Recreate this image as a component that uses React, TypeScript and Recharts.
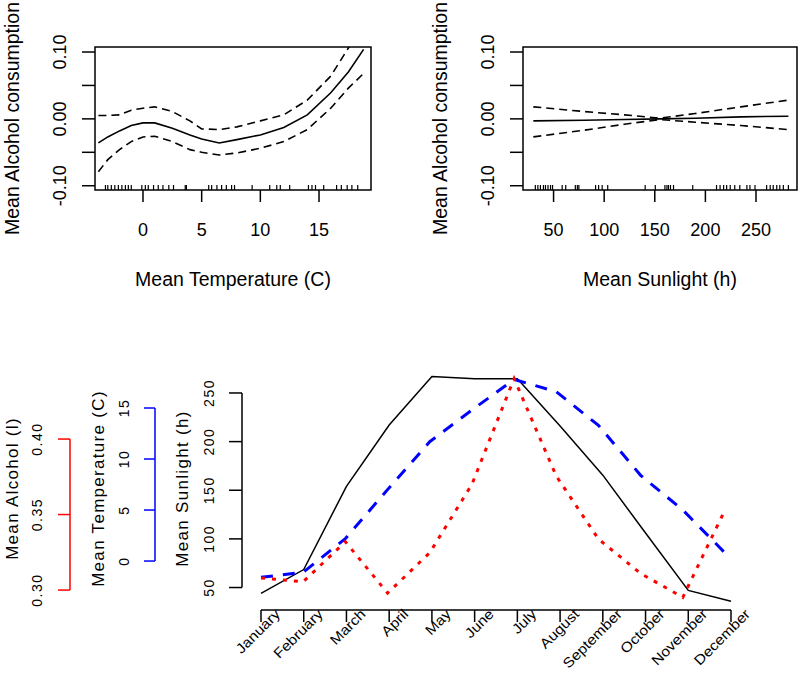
import React from 'react';
import { ComposedChart, LineChart, Line, Scatter, XAxis, YAxis, ReferenceArea } from 'recharts';

const FONT = '"Liberation Sans", Arial, sans-serif';

// top left: smooth of alcohol vs mean temperature
const TEMP_X = [-3.8, -3, -2, -1, 0, 1, 2.5, 4, 5, 6.5, 8, 10, 12, 14, 16, 17.5, 18.8];
const TEMP_FIT = [-0.036, -0.027, -0.018, -0.01, -0.006, -0.006, -0.014, -0.024, -0.03, -0.036, -0.031, -0.024, -0.013, 0.006, 0.039, 0.07, 0.104];
const TEMP_UP = [0.005, 0.005, 0.006, 0.013, 0.016, 0.018, 0.011, -0.003, -0.015, -0.016, -0.012, -0.003, 0.006, 0.028, 0.064, 0.106, 0.145];
const TEMP_LO = [-0.079, -0.061, -0.046, -0.034, -0.027, -0.026, -0.034, -0.046, -0.05, -0.054, -0.051, -0.044, -0.034, -0.016, 0.016, 0.046, 0.068];
const TEMP_RUG = [-3.2, -3.0, -2.7, -2.4, -2.1, -1.8, -1.5, -1.25, -1.0, -0.1, 0.2, 0.45, 0.9, 1.3, 1.7, 2.2, 2.6, 3.6, 3.7, 5.6, 5.85, 6.3, 6.7, 7.1, 7.55, 7.8, 9.3, 10.8, 11.4, 11.7, 12.5, 14.1, 14.4, 14.7, 15.4, 16.5, 16.9, 17.4, 17.8, 18.3];
const TEMP_XTICKS = [0, 5, 10, 15];

// top right: smooth of alcohol vs mean sunlight
const SUN_X = [30, 80, 120, 155, 190, 235, 282];
const SUN_FIT = [-0.003, -0.002, -0.001, 0.0, 0.001, 0.003, 0.004];
const SUN_UP = [0.018, 0.011, 0.006, 0.001, 0.008, 0.018, 0.028];
const SUN_LO = [-0.027, -0.017, -0.008, -0.001, -0.005, -0.01, -0.016];
const SUN_RUG = [32, 34.5, 37, 40, 42, 44.5, 47, 49, 58.5, 62, 71.5, 73.5, 75, 91.5, 94.5, 98, 103.5, 140.5, 150.5, 160, 162, 163.5, 165.5, 168.5, 187.5, 211, 214.5, 218, 221, 224.5, 229, 234, 241, 244, 249, 260.5, 264, 267, 270.5, 273.5, 277, 282];
const SUN_XTICKS = [50, 100, 150, 200, 250];

const Y_TICKS = [-0.1, -0.05, 0, 0.05, 0.1];
const Y_DOM = [-0.1064, 0.1075];

// bottom: monthly means
const MONTHS = ['January', 'February', 'March', 'April', 'May', 'June', 'July', 'August', 'September', 'October', 'November', 'December'];
const SUNLIGHT = [44, 68.5, 154, 217, 267, 264.5, 264.5, 216, 165.5, 106, 47, 36];
const TEMPERATURE = [-1.6, -1.1, 2.2, 7.0, 11.7, 14.8, 17.8, 16.6, 13.3, 8.4, 5.0, 0.8];
const ALCOHOL = [0.308, 0.3055, 0.332, 0.298, 0.3247, 0.37, 0.44, 0.3755, 0.3338, 0.311, 0.2952, 0.353];
const SUN_TICKS = [50, 100, 150, 200, 250];
const TEMP_TICKS = [0, 5, 10, 15];
const ALC_TICKS = [0.3, 0.35, 0.4];

const M_DOM = [0.5554, 12.4446];
const M2_DOM = [0.5496, 12.593];
const SUN_DOM = [26.9, 276.7];
const TEMP_DOM = [-4.8, 19.02];
const ALC_DOM = [0.2868, 0.4477];
const PLOT_W = 508;
const PLOT_H = 243;

const BOTTOM_TEXT = { fontFamily: FONT, fontSize: 14, letterSpacing: 1.5, fill: '#000' };
const MONTH_TEXT = { fontFamily: FONT, fontSize: 14, fill: '#000' };

// axis line drawn only between first and last tick, like R
const vPart = (dom: number[], ticks: number[]) => {
  const k = PLOT_H / (dom[1] - dom[0]);
  const hi = ticks[ticks.length - 1];
  return `0 ${(dom[1] - hi) * k} ${(hi - ticks[0]) * k} 3000`;
};
const hPart = (dom: number[], lo: number, hi: number) => {
  const k = PLOT_W / (dom[1] - dom[0]);
  return `0 ${(lo - dom[0]) * k} ${(hi - lo) * k} 3000`;
};

const rotTick = (off: number, size: number, fmt: (v: number) => string, style: any, every = 1) => (p: any) => {
  if (p.index % every !== 0) return <g />;
  const cx = p.x + size - off;
  const cy = p.y;
  return (
    <text x={cx} y={cy} transform={`rotate(-90, ${cx}, ${cy})`} textAnchor="middle" dominantBaseline="central" {...style}>
      {fmt(p.payload.value)}
    </text>
  );
};

const yTitle = (text: string, off: number, style: any) => (p: any) => {
  const vb = p.viewBox;
  const cx = vb.x + vb.width - off;
  const cy = vb.y + vb.height / 2;
  return (
    <text x={cx} y={cy} transform={`rotate(-90, ${cx}, ${cy})`} textAnchor="middle" dominantBaseline="central" {...style}>
      {text}
    </text>
  );
};

const xTitle = (text: string, off: number, style: any) => (p: any) => {
  const vb = p.viewBox;
  return (
    <text x={vb.x + vb.width / 2} y={vb.y + off} textAnchor="middle" {...style}>
      {text}
    </text>
  );
};

const RugMark = (p: any) => <line x1={p.cx} x2={p.cx} y1={p.cy} y2={p.cy - 5} stroke="#000" strokeWidth={1.2} />;

// month names slanted at 45 degrees, ending just right of the tick
const MonthTick = (p: any) => {
  const ax = p.x + 20;
  const ay = p.y - 7;
  return (
    <text x={0} y={0} transform={`translate(${ax}, ${ay}) rotate(-45) scale(1.12, 1)`} textAnchor="end" {...MONTH_TEXT}>
      {MONTHS[p.payload.value - 1]}
    </text>
  );
};

function SmoothPanel(props: any) {
  const { xs, fit, up, lo, rug, xDomain, xTicks, title, left, yWidth, right } = props;
  const pts = xs.map((x: number, i: number) => ({ x, fit: fit[i], up: up[i], lo: lo[i] }));
  const rugPts = rug.map((x: number) => ({ x, y: Y_DOM[0] }));
  const txt = { fontFamily: FONT, fill: '#000' };
  return (
    <div style={{ position: 'absolute', left, top: 0 }}>
      <ComposedChart width={400} height={300} margin={{ top: 47, right, bottom: 0, left: 0 }}>
        <XAxis
          type="number" dataKey="x" domain={xDomain} ticks={xTicks} interval={0} allowDataOverflow
          height={110} axisLine={false} tickSize={12} tickMargin={21}
          tickLine={{ stroke: '#000', strokeWidth: 1.5 }}
          tick={{ ...txt, fontSize: 18 }}
          label={xTitle(title, 96, { ...txt, fontSize: 19.5 })}
        />
        <YAxis
          type="number" dataKey="y" domain={Y_DOM} ticks={Y_TICKS} interval={0} allowDataOverflow
          width={yWidth} axisLine={false} tickSize={13} tickMargin={0}
          tickLine={{ stroke: '#000', strokeWidth: 1.5 }}
          tick={rotTick(35, 13, (v) => v.toFixed(2), { ...txt, fontSize: 18 }, 2)}
          label={yTitle('Mean Alcohol consumption', 83, { ...txt, fontSize: 19.5 })}
        />
        <ReferenceArea x1={xDomain[0]} x2={xDomain[1]} y1={Y_DOM[0]} y2={Y_DOM[1]} fill="none" fillOpacity={0} stroke="#000" strokeWidth={1.5} strokeOpacity={1} />
        <Scatter data={rugPts} shape={RugMark} isAnimationActive={false} />
        <Line data={pts} dataKey="up" stroke="#000" strokeWidth={1.6} strokeDasharray="8 5" dot={false} isAnimationActive={false} />
        <Line data={pts} dataKey="lo" stroke="#000" strokeWidth={1.6} strokeDasharray="8 5" dot={false} isAnimationActive={false} />
        <Line data={pts} dataKey="fit" stroke="#000" strokeWidth={1.6} dot={false} isAnimationActive={false} />
      </ComposedChart>
    </div>
  );
}

function MonthlyPanel() {
  const data = MONTHS.map((_, i) => ({ m: i + 1, sun: SUNLIGHT[i], temp: TEMPERATURE[i], alc: ALCOHOL[i] }));
  const titleStyle = { fontFamily: FONT, fontSize: 17, letterSpacing: 1.3, fill: '#000' };
  // left axes are stacked outward in id order: a (sunlight), b (temperature), c (alcohol)
  return (
    <div style={{ position: 'absolute', left: 0, top: 340 }}>
      <LineChart width={800} height={333} data={data} margin={{ top: 27, right: 50, bottom: 0, left: 0 }}>
        <XAxis
          xAxisId="m" type="number" dataKey="m" domain={M_DOM} ticks={data.map((d) => d.m)} interval={0} allowDataOverflow
          height={63} tickSize={12} tickMargin={0}
          axisLine={{ stroke: '#000', strokeWidth: 1.5, strokeDasharray: hPart(M_DOM, 1, 12) }}
          tickLine={{ stroke: '#000', strokeWidth: 1.5 }}
          tick={MonthTick}
        />
        <XAxis xAxisId="m2" type="number" dataKey="m" domain={M2_DOM} allowDataOverflow hide />
        <YAxis
          yAxisId="a_sun" type="number" domain={SUN_DOM} ticks={SUN_TICKS} interval={0} allowDataOverflow
          width={87} tickSize={13} tickMargin={0}
          axisLine={{ stroke: '#000', strokeWidth: 1.5, strokeDasharray: vPart(SUN_DOM, SUN_TICKS) }}
          tickLine={{ stroke: '#000', strokeWidth: 1.5 }}
          tick={rotTick(33, 13, (v) => String(v), BOTTOM_TEXT)}
          label={yTitle('Mean Sunlight (h)', 60, titleStyle)}
        />
        <YAxis
          yAxisId="b_temp" type="number" domain={TEMP_DOM} ticks={TEMP_TICKS} interval={0} allowDataOverflow
          width={85} tickSize={11} tickMargin={0}
          axisLine={{ stroke: '#0000ff', strokeWidth: 1.5, strokeDasharray: vPart(TEMP_DOM, TEMP_TICKS) }}
          tickLine={{ stroke: '#0000ff', strokeWidth: 1.5 }}
          tick={rotTick(31, 11, (v) => String(v), BOTTOM_TEXT)}
          label={yTitle('Mean Temperature (C)', 57, titleStyle)}
        />
        <YAxis
          yAxisId="c_alc" type="number" domain={ALC_DOM} ticks={ALC_TICKS} interval={0} allowDataOverflow
          width={70} tickSize={12} tickMargin={0}
          axisLine={{ stroke: '#ff0000', strokeWidth: 1.5, strokeDasharray: vPart(ALC_DOM, ALC_TICKS) }}
          tickLine={{ stroke: '#ff0000', strokeWidth: 1.5 }}
          tick={rotTick(33, 12, (v) => v.toFixed(2), BOTTOM_TEXT)}
          label={yTitle('Mean Alcohol (l)', 58, titleStyle)}
        />
        <Line xAxisId="m" yAxisId="a_sun" dataKey="sun" stroke="#000" strokeWidth={1.5} dot={false} isAnimationActive={false} />
        <Line xAxisId="m2" yAxisId="b_temp" dataKey="temp" stroke="#0000ff" strokeWidth={3} strokeDasharray="12 10" dot={false} isAnimationActive={false} />
        <Line xAxisId="m2" yAxisId="c_alc" dataKey="alc" stroke="#ff0000" strokeWidth={3} strokeDasharray="4 7" dot={false} isAnimationActive={false} />
      </LineChart>
    </div>
  );
}

export default function App() {
  return (
    <div style={{ position: 'absolute', left: 0, top: 0, width: 800, height: 673, background: '#fff', overflow: 'hidden' }}>
      <SmoothPanel
        xs={TEMP_X} fit={TEMP_FIT} up={TEMP_UP} lo={TEMP_LO} rug={TEMP_RUG}
        xDomain={[-4.09, 19.43]} xTicks={TEMP_XTICKS} title="Mean Temperature (C)"
        left={0} yWidth={95} right={29}
      />
      <SmoothPanel
        xs={SUN_X} fit={SUN_FIT} up={SUN_UP} lo={SUN_LO} rug={SUN_RUG}
        xDomain={[19.8, 290.5]} xTicks={SUN_XTICKS} title="Mean Sunlight (h)"
        left={400} yWidth={123} right={3}
      />
      <MonthlyPanel />
    </div>
  );
}
